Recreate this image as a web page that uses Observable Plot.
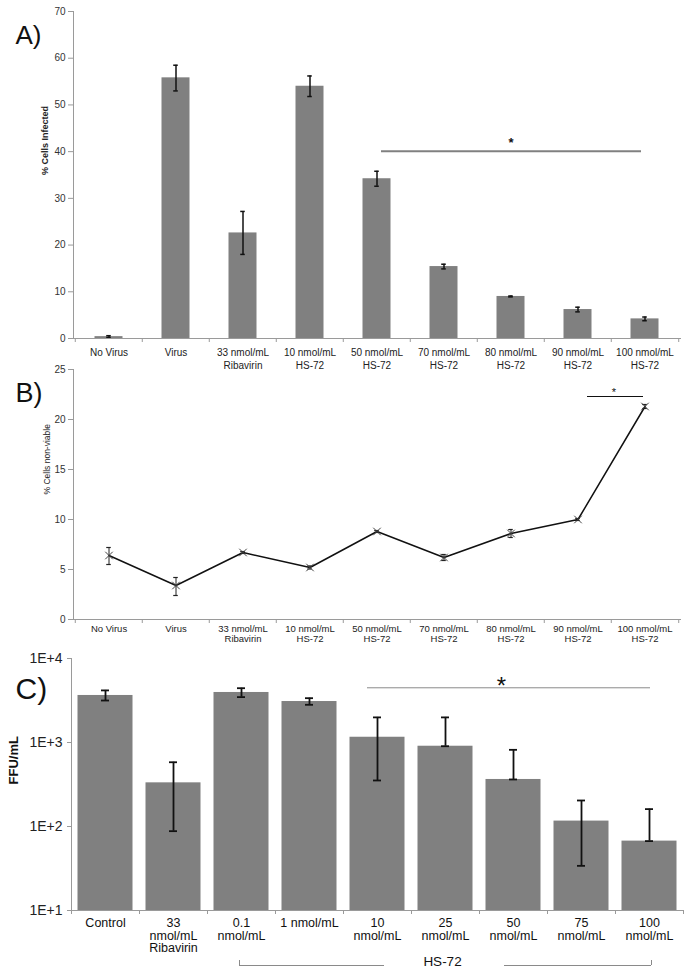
<!DOCTYPE html>
<html><head><meta charset="utf-8">
<script src="https://cdn.jsdelivr.net/npm/d3@7"></script>
<script src="https://cdn.jsdelivr.net/npm/@observablehq/plot@0.6"></script>
<style>
body{margin:0;background:#fff;}
#wrap{position:relative;width:691px;height:976px;}
#wrap svg{position:absolute;left:0;overflow:visible;background:transparent;}
</style></head><body><div id="wrap"></div>
<script>
// ---------- data ----------
const catsAB = ["No Virus","Virus","33 nmol/mL\nRibavirin","10 nmol/mL\nHS-72","50 nmol/mL\nHS-72","70 nmol/mL\nHS-72","80 nmol/mL\nHS-72","90 nmol/mL\nHS-72","100 nmol/mL\nHS-72"];
const infected   = [0.4, 55.8, 22.6, 54.0, 34.2, 15.4, 9.0, 6.2, 4.2];
const infectedLo = [0.2, 53.0, 18.0, 51.8, 32.6, 14.9, 8.9, 5.7, 3.8];
const infectedHi = [0.6, 58.5, 27.2, 56.2, 35.8, 15.9, 9.1, 6.7, 4.6];
const nonViable   = [6.4, 3.4, 6.7, 5.2, 8.8, 6.2, 8.6, 10.0, 21.3];
const nonViableLo = [5.5, 2.4, 6.6, 5.05, 8.7, 5.9, 8.2, 9.9, 21.1];
const nonViableHi = [7.2, 4.2, 6.8, 5.35, 8.9, 6.5, 9.0, 10.1, 21.5];
const catsC = ["Control","33\nnmol/mL\nRibavirin","0.1\nnmol/mL","1 nmol/mL","10\nnmol/mL","25\nnmol/mL","50\nnmol/mL","75\nnmol/mL","100\nnmol/mL"];
const ffu   = [3630, 331, 3940, 3075, 1155, 903, 363, 116, 67];
const ffuLo = [3160, 88, 3470, 2810, 353, 903, 363, 34, 67];
const ffuHi = [4170, 582, 4430, 3370, 1990, 1990, 818, 204, 161];
const ticksA = [0,10,20,30,40,50,60,70];
const ticksB = [0,5,10,15,20,25];
const ticksC = [10,100,1000,10000];
const ticksCLabels = ["1E+1","1E+2","1E+3","1E+4"];
const sigA = 40.1, sigB = 22.3, sigC = 4480;

// ---------- layout ----------
const W = 691;
const FONT = "'Liberation Sans', Arial, Helvetica, sans-serif";
const wrap = document.getElementById("wrap");
function place(svg, top){ svg.style.top = top + "px"; wrap.appendChild(svg); }

const rowsA = catsAB.map((c,i)=>({cat:c, v:infected[i], lo:infectedLo[i], hi:infectedHi[i]}));
const rowsB = catsAB.map((c,i)=>({cat:c, v:nonViable[i], lo:nonViableLo[i], hi:nonViableHi[i]}));
const rowsC = catsC.map((c,i)=>({cat:c, v:ffu[i], lo:ffuLo[i], hi:ffuHi[i]}));

// ---------- Panel A ----------
{
  const mt=11, mb=24, ml=73, mr=11, h=362;
  const bw=(W-ml-mr)/9, ph=h-mt-mb;
  const svg = Plot.plot({
    width: W, height: h, marginTop: mt, marginBottom: mb, marginLeft: ml, marginRight: mr,
    style: {fontFamily: FONT, fontSize: "10px", color: "#333", overflow: "visible", background: "transparent"},
    x: {type: "band", domain: catsAB, padding: 0, axis: null},
    y: {domain: [0, 70], axis: null},
    marks: [
      Plot.barY(rowsA, {x: "cat", y: "v", fill: "#808080", insetLeft: 19.5, insetRight: 19.5}),
      Plot.ruleX(rowsA, {x: "cat", y1: "lo", y2: "hi", stroke: "#111", strokeWidth: 1.5}),
      Plot.tickY(rowsA, {x: "cat", y: "lo", stroke: "#111", strokeWidth: 1.5, insetLeft: bw/2-2.5, insetRight: bw/2-2.5}),
      Plot.tickY(rowsA, {x: "cat", y: "hi", stroke: "#111", strokeWidth: 1.5, insetLeft: bw/2-2.5, insetRight: bw/2-2.5}),
      Plot.frame({anchor: "left", stroke: "#9a9a9a"}),
      Plot.frame({anchor: "bottom", stroke: "#9a9a9a"}),
      Plot.ruleX(catsAB, {x: d=>d, dx: -bw/2, insetTop: ph, insetBottom: -4, stroke: "#9a9a9a"}),
      Plot.ruleX([catsAB[8]], {x: d=>d, dx: bw/2, insetTop: ph, insetBottom: -4, stroke: "#9a9a9a"}),
      Plot.axisY({ticks: ticksA, tickSize: 5, tickPadding: 3, stroke: "#9a9a9a", fill: "#333", fontSize: 10, label: null}),
      Plot.axisX({tickSize: 0, tickPadding: 8, fill: "#222", fontSize: 10, lineHeight: 1.3, label: null}),
      Plot.ruleY([{y: sigA, a: catsAB[4], b: catsAB[8]}], {y: "y", x1: "a", x2: "b", insetLeft: 38, insetRight: 37, stroke: "#808080", strokeWidth: 2}),
      Plot.text([{t: "*", x: catsAB[6], y: sigA}], {x: "x", y: "y", text: "t", dy: -8, fontSize: 13, fontWeight: "bold", fill: "#111"}),
      Plot.text(["% Cells Infected"], {frameAnchor: "left", dx: -28, rotate: -90, fontWeight: "bold", fontSize: 9, fill: "#222"}),
      Plot.text(["A)"], {frameAnchor: "top-left", dx: -58, dy: 14, textAnchor: "start", lineAnchor: "top", fontSize: 26, fill: "#111"})
    ]
  });
  place(svg, 0);
}

// ---------- Panel B ----------
{
  const mt=7, mb=33, ml=73, mr=11, h=290;
  const bw=(W-ml-mr)/9, ph=h-mt-mb;
  const svg = Plot.plot({
    width: W, height: h, marginTop: mt, marginBottom: mb, marginLeft: ml, marginRight: mr,
    style: {fontFamily: FONT, fontSize: "10px", color: "#333", overflow: "visible", background: "transparent"},
    x: {type: "band", domain: catsAB, padding: 0, axis: null},
    y: {domain: [0, 25], axis: null},
    marks: [
      Plot.frame({anchor: "left", stroke: "#9a9a9a"}),
      Plot.frame({anchor: "bottom", stroke: "#9a9a9a"}),
      Plot.ruleX(catsAB, {x: d=>d, dx: -bw/2, insetTop: ph, insetBottom: -4, stroke: "#9a9a9a"}),
      Plot.ruleX([catsAB[8]], {x: d=>d, dx: bw/2, insetTop: ph, insetBottom: -4, stroke: "#9a9a9a"}),
      Plot.axisY({ticks: ticksB, tickSize: 5, tickPadding: 3, stroke: "#9a9a9a", fill: "#333", fontSize: 10, label: null}),
      Plot.axisX({tickSize: 0, tickPadding: 6, fill: "#222", fontSize: 9.5, lineHeight: 1.0, label: null}),
      Plot.ruleX(rowsB, {x: "cat", y1: "lo", y2: "hi", stroke: "#222", strokeWidth: 1}),
      Plot.tickY(rowsB, {x: "cat", y: "lo", stroke: "#222", strokeWidth: 1.2, insetLeft: bw/2-2.5, insetRight: bw/2-2.5}),
      Plot.tickY(rowsB, {x: "cat", y: "hi", stroke: "#222", strokeWidth: 1.2, insetLeft: bw/2-2.5, insetRight: bw/2-2.5}),
      Plot.line(rowsB, {x: "cat", y: "v", stroke: "#111", strokeWidth: 1.5}),
      Plot.dot(rowsB, {x: "cat", y: "v", symbol: "times", r: 3.5, stroke: "#444", strokeWidth: 1}),
      Plot.ruleY([{y: sigB, a: catsAB[7], b: catsAB[8]}], {y: "y", x1: "a", x2: "b", insetLeft: 43, insetRight: 35, stroke: "#111", strokeWidth: 1.2}),
      Plot.text([{t: "*", x: catsAB[8], y: sigB}], {x: "x", y: "y", text: "t", dx: -31, dy: -4, fontSize: 11, fill: "#111"}),
      Plot.text(["% Cells non-viable"], {frameAnchor: "left", dx: -26, rotate: -90, fontSize: 8.5, fill: "#222"}),
      Plot.text(["B)"], {frameAnchor: "top-left", dx: -58, dy: 13, textAnchor: "start", lineAnchor: "top", fontSize: 27, fill: "#111"})
    ]
  });
  place(svg, 362);
}

// ---------- Panel C ----------
{
  const mt=6, mb=66, ml=71, mr=8, h=324;
  const bw=(W-ml-mr)/9, ph=h-mt-mb;
  const svg = Plot.plot({
    width: W, height: h, marginTop: mt, marginBottom: mb, marginLeft: ml, marginRight: mr,
    style: {fontFamily: FONT, fontSize: "13px", color: "#222", overflow: "visible", background: "transparent"},
    x: {type: "band", domain: catsC, padding: 0, axis: null},
    y: {type: "log", domain: [10, 10000], axis: null},
    marks: [
      Plot.barY(rowsC, {x: "cat", y1: 10, y2: "v", fill: "#808080", insetLeft: 6.5, insetRight: 6.5}),
      Plot.ruleX(rowsC, {x: "cat", y1: "lo", y2: "hi", stroke: "#111", strokeWidth: 1.8}),
      Plot.tickY(rowsC, {x: "cat", y: "lo", stroke: "#111", strokeWidth: 1.8, insetLeft: bw/2-4, insetRight: bw/2-4}),
      Plot.tickY(rowsC, {x: "cat", y: "hi", stroke: "#111", strokeWidth: 1.8, insetLeft: bw/2-4, insetRight: bw/2-4}),
      Plot.frame({anchor: "left", stroke: "#9a9a9a"}),
      Plot.frame({anchor: "bottom", stroke: "#9a9a9a"}),
      Plot.ruleX(catsC, {x: d=>d, dx: -bw/2, insetTop: ph, insetBottom: -4, stroke: "#9a9a9a"}),
      Plot.ruleX([catsC[8]], {x: d=>d, dx: bw/2, insetTop: ph, insetBottom: -4, stroke: "#9a9a9a"}),
      Plot.axisY({ticks: ticksC, tickFormat: d => ticksCLabels[ticksC.indexOf(d)], tickSize: 4, tickPadding: 5, stroke: "#9a9a9a", fill: "#222", fontSize: 14, label: null}),
      Plot.axisX({tickSize: 0, tickPadding: 8, fill: "#111", fontSize: 12.5, lineHeight: 1.0, label: null}),
      Plot.ruleY([{y: sigC, a: catsC[4], b: catsC[8]}], {y: "y", x1: "a", x2: "b", insetLeft: 24, insetRight: 33, stroke: "#8a8a8a", strokeWidth: 1}),
      Plot.text([{t: "*", x: catsC[6], y: sigC}], {x: "x", y: "y", text: "t", dx: -12, dy: -1, fontSize: 24, fill: "#111"}),
      Plot.ruleY([{y: 10, a: catsC[2], b: catsC[4]}], {y: "y", x1: "a", x2: "b", dy: 55, insetLeft: 32, insetRight: 27, stroke: "#8a8a8a", strokeWidth: 1}),
      Plot.ruleY([{y: 10, a: catsC[6], b: catsC[8]}], {y: "y", x1: "a", x2: "b", dy: 55, insetLeft: 25, insetRight: 32, stroke: "#8a8a8a", strokeWidth: 1}),
      Plot.ruleX([catsC[2]], {x: d=>d, dx: -2, insetTop: ph+50, insetBottom: -55, stroke: "#8a8a8a"}),
      Plot.ruleX([catsC[8]], {x: d=>d, dx: 2, insetTop: ph+50, insetBottom: -55, stroke: "#8a8a8a"}),
      Plot.text(["HS-72"], {x: () => catsC[5], frameAnchor: "bottom", dx: -3, dy: 55, fontSize: 13.5, fill: "#111"}),
      Plot.text(["FFU/mL"], {frameAnchor: "left", dx: -58, rotate: -90, fontWeight: "bold", fontSize: 13, fill: "#111"}),
      Plot.text(["C)"], {frameAnchor: "top-left", dx: -56, dy: 19, textAnchor: "start", lineAnchor: "top", fontSize: 30, fill: "#111"})
    ]
  });
  place(svg, 652);
}
</script>
</body></html>
